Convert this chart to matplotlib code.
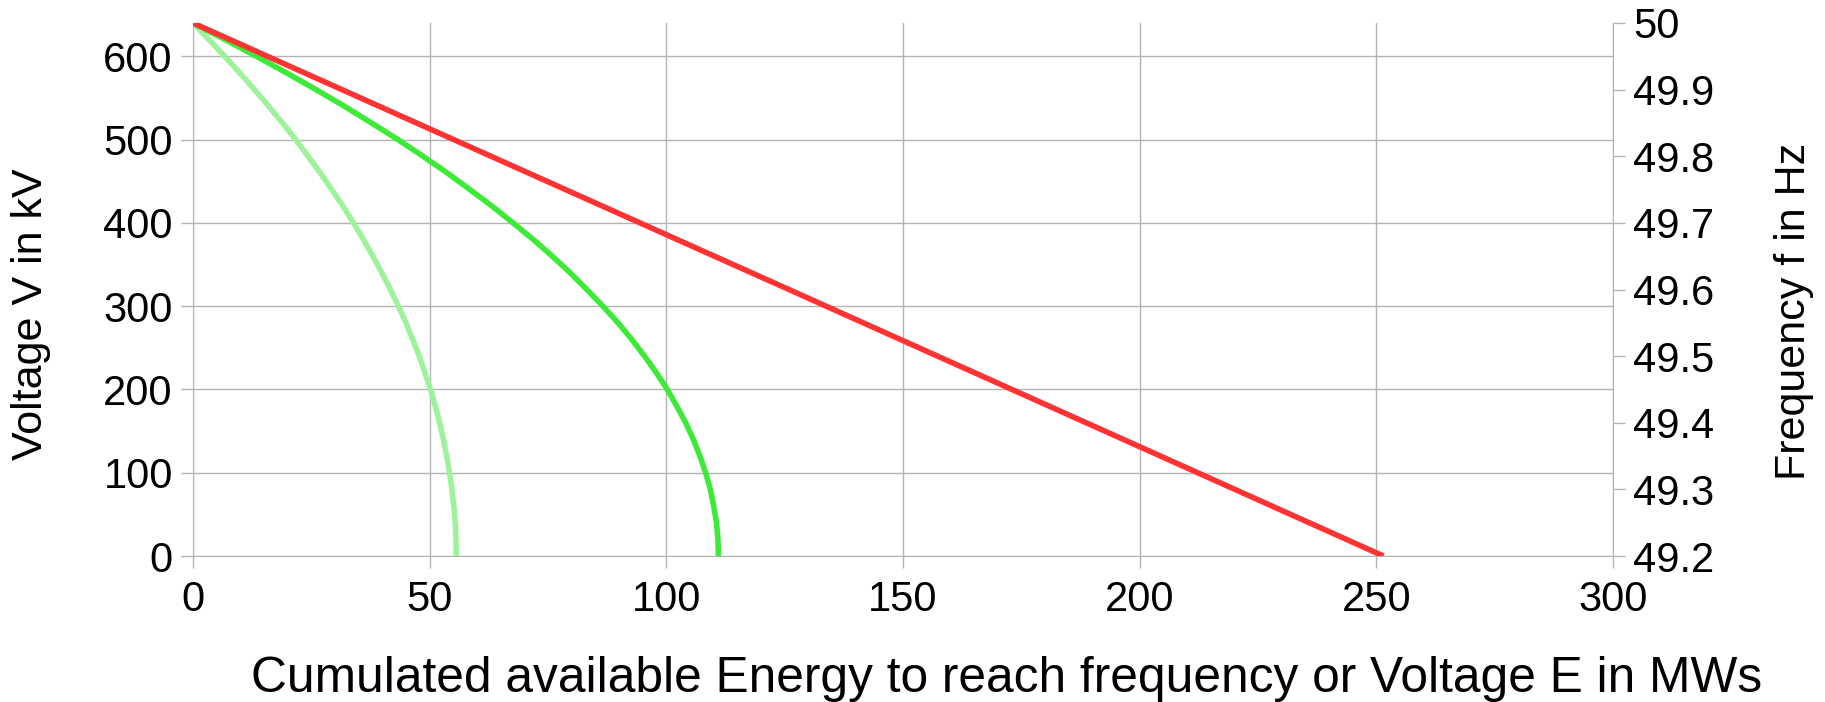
import matplotlib
matplotlib.use("Agg")
import matplotlib.pyplot as plt

plt.rcParams['font.family'] = ['Liberation Sans', 'DejaVu Sans']

# Voltage levels (kV) and cumulated energy (MWs)
voltage_kv = [640, 620, 600, 580, 560, 540, 520, 500, 480, 460, 440, 420, 400, 380, 360, 340,
              320, 300, 280, 260, 240, 220, 200, 180, 160, 140, 120, 100, 80, 60, 40, 30, 20, 10, 0]
energy_light = [0, 3.4, 6.7, 9.9, 13.0, 16.0, 18.9, 21.7, 24.3, 26.9, 29.3, 31.7, 33.9, 36.0, 38.0, 39.9,
                41.7, 43.4, 45.0, 46.4, 47.8, 49.0, 50.2, 51.2, 52.1, 52.9, 53.6, 54.2, 54.7, 55.1, 55.4,
                55.5, 55.55, 55.59, 55.6]
energy_dark = [0, 6.8, 13.4, 19.8, 26.0, 32.0, 37.7, 43.3, 48.6, 53.7, 58.5, 63.2, 67.6, 71.9, 75.9, 79.7,
               83.2, 86.6, 89.8, 92.7, 95.4, 97.9, 100.2, 102.2, 104.1, 105.7, 107.1, 108.3, 109.3, 110.0,
               110.6, 110.76, 110.9, 110.97, 111.0]

# Frequency curve (Hz) vs cumulated energy (MWs)
freq_hz = [50.0, 49.6, 49.2]
energy_freq = [0, 125.9, 251.5]

x_ticks = [0, 50, 100, 150, 200, 250, 300]
v_ticks = [0, 100, 200, 300, 400, 500, 600]
f_ticks = [49.2, 49.3, 49.4, 49.5, 49.6, 49.7, 49.8, 49.9, 50.0]
f_labels = ["49.2", "49.3", "49.4", "49.5", "49.6", "49.7", "49.8", "49.9", "50"]

W, H = 1825, 702
fig = plt.figure(figsize=(W / 100, H / 100), dpi=100)
ax = fig.add_axes([193 / W, 1 - 556 / H, (1613 - 193) / W, (556 - 23) / H])
ax2 = ax.twinx()

grid_c = '#b3b3b3'
fs_tick = 30

ax.plot(energy_light, voltage_kv, color='#9ef29b', lw=4.0, solid_capstyle='butt', zorder=3)
ax.plot(energy_dark, voltage_kv, color='#3dea37', lw=4.0, solid_capstyle='butt', zorder=3)
ax2.plot(energy_freq, freq_hz, color='#ff3333', lw=4.0, solid_capstyle='butt', zorder=3)

ax.set_xlim(0, 300)
ax.set_ylim(0, 640)
ax2.set_ylim(49.2, 50.0)

ax.set_xticks(x_ticks)
ax.set_yticks(v_ticks)
ax2.set_yticks(f_ticks)
ax2.set_yticklabels(f_labels)

ax.grid(True, color=grid_c, lw=1.0)
ax.set_axisbelow(True)

for a in (ax, ax2):
    for s in a.spines.values():
        s.set_visible(False)
ax.spines['left'].set_visible(True)
ax.spines['left'].set_color(grid_c)
ax.spines['bottom'].set_visible(True)
ax.spines['bottom'].set_color(grid_c)
ax2.spines['right'].set_visible(True)
ax2.spines['right'].set_color(grid_c)

ax.tick_params(axis='both', colors=grid_c, labelcolor='black', labelsize=fs_tick, length=8.5, width=1)
ax.tick_params(axis='x', pad=9)
ax.tick_params(axis='y', pad=6)
ax2.tick_params(axis='y', colors=grid_c, labelcolor='black', labelsize=fs_tick, length=8.5, width=1, pad=6)

fig.text(1007 / W, 1 - 679 / H, 'Cumulated available Energy to reach frequency or Voltage E in MWs',
         fontsize=35.7, ha='center', va='center')
fig.text(31 / W, 1 - 314 / H, 'Voltage V in kV', fontsize=31, rotation=90, ha='center', va='center')
fig.text(1794 / W, 1 - 311 / H, 'Frequency f in Hz', fontsize=31, rotation=90, ha='center', va='center')

fig.savefig('out.png', dpi=100, facecolor='white')
